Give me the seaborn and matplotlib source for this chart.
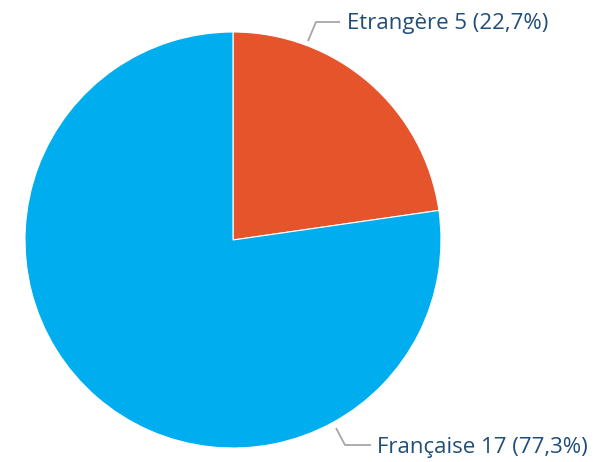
import matplotlib
matplotlib.use("Agg")
import matplotlib.pyplot as plt
import seaborn as sns
import numpy as np

categories = ["Etrangère", "Française"]
counts = [5, 17]
labels = ["Etrangère 5 (22,7%)", "Française 17 (77,3%)"]
colors = ["#E5542A", "#00AEEF"]

sns.set_theme(style="white")
plt.rcParams['font.family'] = ['Open Sans', 'DejaVu Sans']

fig = plt.figure(figsize=(5.96, 4.62), dpi=100)
ax = fig.add_axes([0, 0, 1, 1])

cx, cy, r = 233, 462 - 240, 208
ax.pie(counts, colors=colors, startangle=90, counterclock=False,
       center=(cx, cy), radius=r, frame=True,
       wedgeprops=dict(edgecolor='white', linewidth=0.8))
ax.set_xlim(0, 596)
ax.set_ylim(0, 462)
ax.set_aspect('equal')
ax.axis('off')

line_col = "#A6A6A6"
text_col = "#1F4E79"
# leader lines and labels
leaders = [
    [(308, 462 - 41), (316, 462 - 22), (340, 462 - 22)],
    [(336, 462 - 428), (345, 462 - 445), (371, 462 - 445)],
]
text_pos = [(347, 462 - 24), (377, 462 - 447)]
for pts, (tx, ty), lab in zip(leaders, text_pos, labels):
    xs, ys = zip(*pts)
    ax.plot(xs, ys, color=line_col, lw=1.3, solid_capstyle='butt')
    ax.text(tx, ty, lab, color=text_col, fontsize=16, ha='left', va='center')

fig.savefig("out.png", dpi=100)
